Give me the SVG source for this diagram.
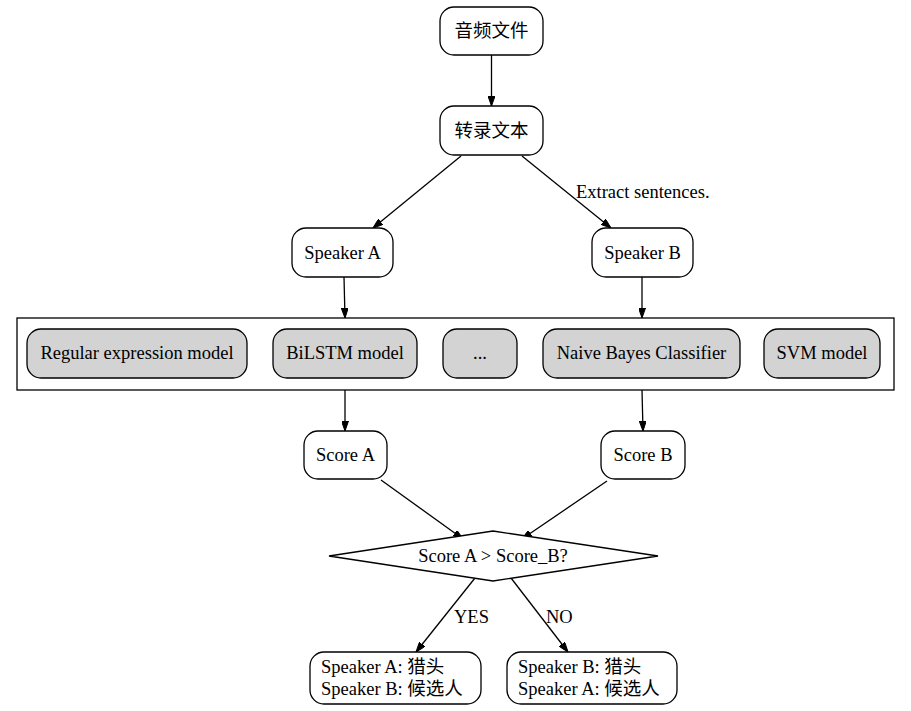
<svg xmlns="http://www.w3.org/2000/svg" width="911" height="711" viewBox="0 0 911 711">
<style>
.n{fill:#fff;stroke:#000;stroke-width:1.3}
.g{fill:#d3d3d3;stroke:#000;stroke-width:1.3}
.t{font-family:"Liberation Serif","Noto Sans CJK SC",serif;font-size:18.5px;fill:#000;text-anchor:middle}
.l{text-anchor:start}
.c{font-family:"Noto Sans CJK SC","Liberation Serif",sans-serif;font-size:18.5px}
.e{fill:none;stroke:#000;stroke-width:1.3}
</style>
<defs>
<marker id="a" viewBox="0 0 10 7" refX="10" refY="3.5" markerWidth="10" markerHeight="7" markerUnits="userSpaceOnUse" orient="auto">
<path d="M0,0 L10,3.5 L0,7 Z" fill="#000" stroke="#000"/>
</marker>
</defs>
<rect width="911" height="711" fill="#fff"/>
<g id="edges">
<path class="e" d="M491.5,55 L491.5,106" marker-end="url(#a)"/>
<path class="e" d="M461,156 L373,228" marker-end="url(#a)"/>
<path class="e" d="M522,156 L611,228" marker-end="url(#a)"/>
<text class="t l" x="576" y="198">Extract sentences.</text>
<path class="e" d="M344,277 L345,318" marker-end="url(#a)"/>
<path class="e" d="M642,277 L642,318" marker-end="url(#a)"/>
<path class="e" d="M345,390 L345,431" marker-end="url(#a)"/>
<path class="e" d="M642,390 L643,431" marker-end="url(#a)"/>
<path class="e" d="M381,480 L463,539" marker-end="url(#a)"/>
<path class="e" d="M607,481 L522,539" marker-end="url(#a)"/>
<path class="e" d="M475,578 L416,652" marker-end="url(#a)"/>
<text class="t l" x="454" y="623">YES</text>
<path class="e" d="M511,578 L568,652" marker-end="url(#a)"/>
<text class="t l" x="546" y="623">NO</text>
</g>
<g id="n1"><rect class="n" x="440" y="7" width="103" height="48" rx="14"/><text class="t" x="491.5" y="37"><tspan class="c">音频文件</tspan></text></g>
<g id="n2"><rect class="n" x="440" y="106" width="103" height="49" rx="14"/><text class="t" x="491.5" y="137"><tspan class="c">转录文本</tspan></text></g>
<g id="spA"><rect class="n" x="292" y="228" width="101" height="49" rx="14"/><text class="t" x="342.5" y="259">Speaker A</text></g>
<g id="spB"><rect class="n" x="592" y="228" width="101" height="49" rx="14"/><text class="t" x="642.5" y="259">Speaker B</text></g>
<g id="cluster">
<rect x="17" y="318" width="877" height="72" fill="none" stroke="#000" stroke-width="1.3"/>
<g id="m1"><rect class="g" x="27" y="329" width="220" height="49" rx="14"/><text class="t" x="137" y="359">Regular expression model</text></g>
<g id="m2"><rect class="g" x="273" y="329" width="144" height="49" rx="14"/><text class="t" x="345" y="359">BiLSTM model</text></g>
<g id="m3"><rect class="g" x="443" y="329" width="74" height="49" rx="14"/><text class="t" x="480" y="359">...</text></g>
<g id="m4"><rect class="g" x="543" y="329" width="197" height="49" rx="14"/><text class="t" x="641.5" y="359">Naive Bayes Classifier</text></g>
<g id="m5"><rect class="g" x="764" y="329" width="116" height="49" rx="14"/><text class="t" x="822" y="359">SVM model</text></g>
</g>
<g id="scA"><rect class="n" x="304" y="431" width="83" height="48" rx="14"/><text class="t" x="345.5" y="461">Score A</text></g>
<g id="scB"><rect class="n" x="601" y="431" width="84" height="48" rx="14"/><text class="t" x="643" y="461">Score B</text></g>
<g id="dec"><polygon class="n" points="493,531 658,556 493,581 329,556"/><text class="t" x="493" y="562">Score A &gt; Score_B?</text></g>
<g id="rA"><rect class="n" x="310" y="652" width="171" height="52" rx="14"/><text class="t l" x="321" y="673">Speaker A: <tspan class="c">猎头</tspan></text><text class="t l" x="321" y="695">Speaker B: <tspan class="c">候选人</tspan></text></g>
<g id="rB"><rect class="n" x="507" y="652" width="170" height="52" rx="14"/><text class="t l" x="518" y="673">Speaker B: <tspan class="c">猎头</tspan></text><text class="t l" x="518" y="695">Speaker A: <tspan class="c">候选人</tspan></text></g>
</svg>
